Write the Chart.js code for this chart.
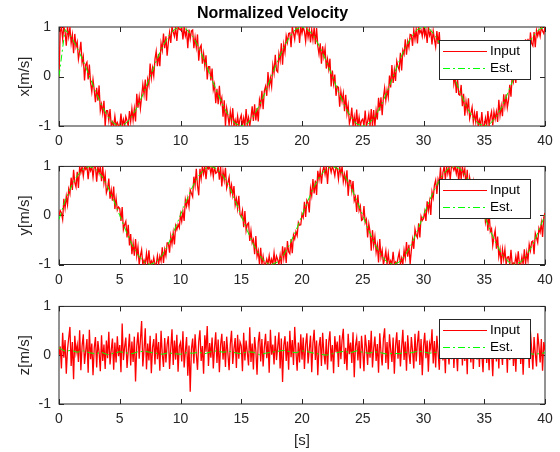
<!DOCTYPE html>
<html>
<head>
<meta charset="utf-8">
<script src="https://cdn.jsdelivr.net/npm/chart.js@4.4.1/dist/chart.umd.min.js"></script>
<style>
html, body { margin: 0; padding: 0; background: #fff; }
#fig { position: relative; width: 560px; height: 452px; }
#fig canvas { position: absolute; left: 0; }
</style>
</head>
<body>
<div id="fig">
  <canvas id="cx" width="560" height="150" style="top:0"></canvas>
  <canvas id="cy" width="560" height="140" style="top:150px"></canvas>
  <canvas id="cz" width="560" height="162" style="top:290px"></canvas>
</div>
<script>
//Sample times of the input signal (0.1 s step) and of the estimate (0.5 s step)
const time = Array.from({length: 401}, (_, i) => i / 10);
const estTime = Array.from({length: 81}, (_, i) => i / 2);

//x velocity, input (one row per second)
const xInput = [
  0.00, 0.90, 1.00, 0.76, 1.00, 0.90, 0.62, 1.00, 0.80, 0.99,
  0.67, 0.84, 0.47, 0.86, 0.60, 0.70, 0.35, 0.50, 0.70, 0.28,
  0.40, -0.08, 0.24, 0.29, -0.06, 0.24, -0.13, -0.31, -0.06, -0.27,
  -0.52, -0.23, -0.49, -0.18, -0.69, -0.56, -0.74, -0.49, -1.00, -0.69,
  -0.69, -0.89, -0.66, -1.00, -0.92, -1.00, -0.80, -1.00, -0.93, -1.00,
  -1.00, -0.75, -1.00, -0.87, -1.00, -0.81, -0.89, -1.00, -0.70, -0.91,
  -0.65, -0.88, -0.65, -0.91, -0.35, -0.63, -0.41, -0.65, -0.41, -0.16,
  -0.36, -0.06, -0.49, -0.06, -0.18, 0.26, -0.03, 0.17, 0.01, 0.35,
  0.51, 0.21, 0.46, 0.21, 0.67, 0.53, 0.87, 0.57, 0.81, 0.42,
  0.69, 0.89, 0.68, 1.00, 0.90, 0.81, 1.00, 0.72, 1.00, 0.96,
  0.94, 1.00, 0.75, 1.00, 0.82, 0.92, 0.57, 0.95, 0.76, 0.92,
  0.94, 0.57, 0.79, 0.59, 0.85, 0.32, 0.58, 0.63, 0.26, 0.46,
  0.21, 0.43, -0.06, 0.20, 0.20, -0.08, 0.16, -0.27, -0.16, -0.54,
  -0.25, -0.56, -0.19, -0.53, -0.43, -0.81, -0.48, -1.00, -0.64, -0.79,
  -0.98, -0.71, -0.92, -0.64, -1.00, -0.88, -1.00, -0.80, -1.00, -0.86,
  -0.78, -1.00, -0.84, -1.00, -0.66, -0.97, -0.83, -1.00, -0.83, -0.60,
  -0.90, -0.56, -0.89, -0.64, -0.91, -0.47, -0.59, -0.29, -0.66, -0.29,
  -0.20, -0.39, 0.09, -0.21, -0.03, -0.20, 0.23, 0.07, 0.44, 0.12,
  0.09, 0.46, 0.32, 0.67, 0.24, 0.65, 0.49, 0.82, 0.69, 0.87,
  0.88, 0.59, 1.00, 0.88, 0.75, 1.00, 0.88, 1.00, 0.68, 1.00,
  0.87, 1.00, 0.91, 0.71, 1.00, 0.79, 0.95, 0.69, 0.94, 0.74,
  0.99, 0.65, 0.98, 0.62, 0.45, 0.67, 0.26, 0.61, 0.40, 0.57,
  0.16, 0.35, 0.15, 0.36, -0.20, 0.12, -0.15, 0.04, -0.39, -0.20,
  -0.22, -0.61, -0.30, -0.50, -0.34, -0.70, -0.37, -0.75, -0.58, -0.95,
  -0.85, -0.63, -1.00, -0.81, -1.00, -0.67, -1.00, -0.82, -1.00, -0.89,
  -0.86, -1.00, -0.69, -1.00, -0.91, -0.76, -1.00, -0.66, -1.00, -0.68,
  -1.00, -0.69, -0.87, -0.43, -0.69, -0.42, -0.78, -0.42, -0.23, -0.48,
  -0.27, -0.42, 0.02, -0.22, 0.23, -0.13, 0.13, -0.09, 0.31, 0.20,
  0.13, 0.48, 0.12, 0.53, 0.45, 0.75, 0.44, 0.71, 0.59, 0.85,
  0.84, 0.62, 0.94, 0.75, 0.95, 0.67, 1.00, 0.88, 0.94, 0.81,
  1.00, 0.82, 0.94, 0.68, 1.00, 0.83, 0.91, 0.65, 0.92, 0.75,
  0.60, 0.92, 0.66, 0.90, 0.48, 0.19, 0.65, 0.35, 0.62, 0.29,
  0.43, 0.02, 0.27, 0.09, 0.25, -0.15, 0.00, -0.33, -0.05, -0.36,
  -0.38, -0.17, -0.60, -0.35, -0.79, -0.50, -0.69, -0.44, -0.85, -0.74,
  -0.62, -0.92, -0.74, -0.92, -0.70, -1.00, -0.88, -1.00, -0.72, -1.00,
  -1.00, -0.84, -1.00, -0.70, -1.00, -0.82, -0.71, -0.99, -0.71, -0.86,
  -0.71, -0.92, -0.47, -0.78, -0.59, -0.80, -0.36, -0.60, -0.36, -0.63,
  -0.47, -0.17, -0.41, 0.04, -0.10, 0.11, -0.13, 0.36, 0.11, 0.39,
  0.36, 0.10, 0.52, 0.35, 0.75, 0.53, 0.76, 0.44, 0.89, 0.67,
  0.62, 0.90, 0.59, 0.93, 0.82, 0.93, 0.81, 1.00, 0.92, 0.87,
  1.00
];

//x velocity, estimate
const xEst = [
  0.00, 0.95, 0.80, 0.58, 0.31, 0.01, -0.30, -0.58, -0.80, -0.95, -1.00, -0.95, -0.81, -0.59, -0.31, 0.00, 0.31, 0.59, 0.81, 0.95,
  1.00, 0.95, 0.81, 0.59, 0.30, -0.01, -0.31, -0.59, -0.81, -0.95, -1.00, -0.95, -0.80, -0.58, -0.30, 0.01, 0.32, 0.59, 0.81, 0.96,
  1.00, 0.95, 0.81, 0.58, 0.31, 0.00, -0.31, -0.59, -0.81, -0.96, -1.00, -0.95, -0.81, -0.59, -0.31, 0.00, 0.31, 0.58, 0.80, 0.95,
  1.00, 0.96, 0.81, 0.59, 0.31, 0.00, -0.31, -0.59, -0.81, -0.95, -1.00, -0.95, -0.81, -0.59, -0.30, 0.01, 0.31, 0.59, 0.81, 0.95,
  1.00
];

//y velocity, input
const yInput = [
  0.00, 0.10, 0.05, -0.08, 0.34, 0.15, 0.39, 0.22, 0.54, 0.44,
  0.77, 0.52, 0.93, 0.67, 0.58, 0.89, 0.56, 1.00, 0.87, 1.00,
  0.80, 1.00, 0.94, 1.00, 0.74, 1.00, 0.91, 1.00, 0.78, 1.00,
  1.00, 0.69, 1.00, 0.86, 1.00, 0.70, 1.00, 0.66, 0.83, 0.46,
  0.55, 0.75, 0.34, 0.52, 0.30, 0.59, 0.13, 0.35, 0.11, 0.17,
  0.14, -0.11, 0.17, -0.29, -0.19, -0.12, -0.45, -0.19, -0.61, -0.38,
  -0.79, -0.56, -0.82, -0.48, -0.82, -0.64, -1.00, -0.82, -0.70, -1.00,
  -0.91, -1.00, -0.77, -1.00, -0.71, -1.00, -0.93, -1.00, -0.86, -1.00,
  -1.00, -0.82, -1.00, -0.83, -0.93, -0.65, -0.97, -0.70, -0.82, -0.56,
  -0.56, -0.76, -0.42, -0.58, -0.35, -0.59, -0.21, -0.29, -0.18, -0.25,
  0.02, -0.12, 0.08, -0.11, 0.32, 0.19, 0.35, 0.18, 0.52, 0.45,
  0.38, 0.79, 0.61, 0.95, 0.61, 0.41, 0.95, 0.75, 1.00, 0.85,
  1.00, 0.74, 1.00, 0.95, 1.00, 0.85, 1.00, 0.79, 1.00, 0.86,
  0.88, 1.00, 0.73, 1.00, 0.59, 0.90, 0.72, 0.97, 0.56, 0.67,
  0.78, 0.46, 0.62, 0.41, 0.60, 0.21, 0.34, 0.14, 0.40, 0.02,
  -0.03, 0.10, -0.24, 0.09, -0.31, -0.18, -0.15, -0.52, -0.31, -0.56,
  -0.49, -0.79, -0.42, -0.83, -0.72, -1.00, -0.66, -1.00, -0.83, -1.00,
  -1.00, -0.89, -1.00, -0.82, -1.00, -0.89, -1.00, -0.76, -1.00, -0.83,
  -0.90, -1.00, -0.81, -1.00, -0.63, -0.87, -0.65, -0.97, -0.52, -0.74,
  -0.78, -0.48, -0.77, -0.40, -0.48, -0.33, -0.41, -0.14, -0.20, -0.19,
  0.03, -0.04, 0.28, -0.03, 0.31, 0.26, 0.06, 0.55, 0.40, 0.74,
  0.45, 0.71, 0.42, 0.91, 0.73, 0.92, 0.65, 0.90, 1.00, 0.84,
  1.00, 0.64, 1.00, 1.00, 0.88, 1.00, 0.93, 0.81, 1.00, 0.95,
  0.74, 1.00, 0.84, 1.00, 0.69, 0.84, 0.67, 0.92, 0.40, 0.72,
  0.71, 0.49, 0.70, 0.30, 0.38, 0.07, 0.42, 0.10, 0.19, -0.10,
  -0.08, 0.19, -0.15, -0.08, -0.45, -0.17, -0.33, -0.72, -0.30, -0.61,
  -0.43, -0.75, -0.60, -0.96, -0.48, -0.85, -0.71, -1.00, -0.88, -0.72,
  -1.00, -0.78, -1.00, -0.92, -1.00, -0.74, -1.00, -0.95, -1.00, -0.87,
  -0.75, -1.00, -0.87, -1.00, -0.71, -0.87, -0.54, -0.84, -0.60, -0.99,
  -0.71, -0.49, -0.68, -0.28, -0.40, -0.45, -0.16, -0.45, -0.02, -0.10,
  -0.06, 0.08, -0.11, 0.29, 0.10, 0.28, 0.01, 0.48, 0.36, 0.62,
  0.72, 0.44, 0.74, 0.64, 0.98, 0.54, 0.88, 1.00, 0.73, 1.00,
  0.85, 1.00, 0.73, 1.00, 1.00, 0.92, 1.00, 0.85, 1.00, 0.68,
  1.00, 0.74, 1.00, 0.83, 0.95, 0.59, 0.93, 0.40, 0.77, 0.62,
  0.42, 0.67, 0.44, 0.69, 0.26, 0.38, 0.04, 0.37, 0.07, 0.20,
  0.22, -0.13, 0.02, -0.31, 0.06, -0.33, -0.27, -0.61, -0.43, -0.30,
  -0.68, -0.43, -0.84, -0.69, -1.00, -0.69, -0.89, -0.69, -1.00, -0.85,
  -0.84, -1.00, -0.70, -1.00, -0.97, -1.00, -0.83, -1.00, -0.73, -1.00,
  -1.00, -0.84, -1.00, -0.69, -1.00, -0.75, -0.92, -0.59, -0.72, -0.54,
  -0.52, -0.79, -0.36, -0.45, -0.55, -0.26, -0.34, -0.15, -0.44, -0.04,
  0.05
];

//y velocity, estimate
const yEst = [
  -0.08, 0.30, 0.58, 0.81, 0.95, 1.00, 0.95, 0.81, 0.59, 0.31, 0.00, -0.31, -0.59, -0.81, -0.95, -1.00, -0.95, -0.81, -0.58, -0.30,
  0.01, 0.31, 0.59, 0.81, 0.95, 1.00, 0.95, 0.81, 0.59, 0.30, -0.01, -0.31, -0.59, -0.81, -0.96, -1.00, -0.95, -0.80, -0.58, -0.31,
  0.00, 0.31, 0.59, 0.81, 0.95, 1.00, 0.95, 0.81, 0.59, 0.31, 0.00, -0.31, -0.59, -0.81, -0.95, -1.00, -0.95, -0.81, -0.59, -0.31,
  0.00, 0.31, 0.58, 0.80, 0.95, 1.00, 0.96, 0.81, 0.59, 0.31, 0.00, -0.31, -0.59, -0.81, -0.95, -1.00, -0.95, -0.81, -0.59, -0.30,
  0.01
];

//z velocity, input
const zInput = [
  0.00, 0.18, -0.27, 0.46, -0.05, 0.31, -0.38, 0.12, 0.35, 0.58,
  -0.22, 0.27, -0.49, 0.40, 0.05, 0.21, -0.14, 0.51, -0.31, 0.19,
  0.43, -0.18, 0.09, 0.33, -0.36, 0.52, -0.08, 0.24, -0.41, 0.15,
  0.37, -0.25, 0.29, 0.06, -0.33, 0.41, -0.12, 0.22, -0.28, 0.30,
  -0.06, 0.48, -0.19, 0.11, 0.34, -0.30, 0.26, -0.15, 0.39, -0.02,
  0.21, -0.35, 0.65, -0.10, 0.17, 0.36, -0.26, 0.09, 0.44, -0.21,
  0.28, -0.14, 0.38, -0.54, 0.19, 0.47, -0.07, 0.31, 0.70, -0.23,
  0.12, 0.55, -0.29, 0.24, -0.11, 0.40, -0.37, 0.16, 0.33, -0.19,
  0.45, -0.08, 0.27, -0.32, 0.50, 0.03, -0.24, 0.35, -0.15, 0.22,
  0.39, -0.28, 0.14, 0.53, -0.20, 0.30, -0.09, 0.42, -0.34, 0.18,
  0.26, -0.13, 0.49, -0.25, 0.08, 0.37, -0.42, 0.20, -0.75, 0.13,
  0.34, -0.17, 0.43, 0.02, -0.30, 0.28, 0.51, -0.12, 0.19, -0.38,
  0.41, 0.07, 0.60, -0.22, 0.25, -0.05, 0.36, -0.27, 0.15, 0.47,
  -0.16, 0.32, -0.35, 0.21, 0.44, -0.09, 0.29, -0.24, 0.38, 0.04,
  -0.31, 0.23, 0.50, -0.18, 0.13, 0.35, -0.26, 0.42, -0.07, 0.27,
  0.19, -0.33, 0.46, -0.11, 0.30, 0.05, -0.21, 0.57, -0.14, 0.24,
  -0.29, 0.37, 0.10, -0.40, 0.26, 0.48, -0.13, 0.33, -0.23, 0.16,
  0.44, -0.06, 0.29, -0.36, 0.52, 0.01, 0.22, -0.19, 0.40, -0.10,
  0.17, 0.47, -0.27, 0.34, -0.55, 0.20, 0.39, -0.12, 0.28, -0.30,
  0.50, -0.04, 0.31, -0.20, 0.58, 0.08, -0.32, 0.26, -0.15, 0.43,
  -0.09, 0.36, -0.28, 0.22, 0.45, -0.17, 0.12, 0.40, -0.35, 0.25,
  0.52, -0.10, 0.30, -0.41, 0.18, 0.37, -0.22, 0.46, 0.03, -0.19,
  0.33, -0.30, 0.27, 0.49, -0.13, 0.21, -0.37, 0.39, 0.06, 0.28,
  -0.24, 0.41, -0.08, 0.32, 0.54, -0.18, 0.15, -0.31, 0.44, 0.02,
  0.26, -0.16, 0.47, -0.45, 0.19, 0.35, -0.11, 0.29, -0.27, 0.40,
  0.08, -0.33, 0.42, 0.17, -0.20, 0.31, -0.05, 0.50, -0.25, 0.14,
  0.38, -0.12, 0.23, -0.36, 0.45, 0.06, -0.21, 0.34, 0.55, -0.16,
  0.27, -0.29, 0.43, 0.11, -0.14, 0.36, -0.38, 0.20, 0.47, -0.07,
  0.31, -0.23, 0.16, 0.52, -0.10, 0.28, -0.32, 0.41, 0.04, -0.18,
  0.37, 0.09, -0.27, 0.44, -0.13, 0.25, 0.50, -0.20, 0.33, -0.41,
  0.19, 0.46, -0.06, 0.30, -0.34, 0.24, 0.12, 0.53, -0.17, 0.29,
  -0.25, 0.40, 0.07, -0.30, 0.35, 0.58, -0.11, 0.22, -0.37, 0.43,
  0.15, -0.19, 0.32, -0.08, 0.49, -0.26, 0.27, 0.10, -0.33, 0.38,
  0.05, 0.45, -0.21, 0.34, -0.12, 0.28, -0.39, 0.51, 0.16, -0.15,
  0.36, -0.28, 0.23, 0.47, -0.09, 0.31, -0.24, 0.40, 0.02, -0.35,
  0.29, 0.54, -0.16, 0.20, -0.31, 0.44, 0.08, -0.43, 0.26, 0.37,
  -0.13, 0.33, -0.27, 0.48, 0.11, -0.20, 0.39, -0.05, 0.30, -0.36,
  0.42, -0.10, 0.25, 0.51, -0.22, 0.18, -0.34, 0.35, 0.06, 0.46,
  -0.18, 0.28, -0.40, 0.21, 0.43, -0.07, 0.32, -0.26, 0.49, 0.13,
  -0.29, 0.37, 0.04, -0.23, 0.45, 0.19, -0.15, 0.33, -0.32, 0.27,
  0.10
];

//z velocity, estimate
const zEst = [
  0.15, 0.08, 0.10, 0.06, 0.09, 0.05, 0.03, 0.06, 0.01, 0.04, 0.07, 0.05, 0.03, 0.07, 0.08, 0.06, 0.04, 0.02, 0.05, 0.03,
  0.02, 0.05, 0.04, 0.06, 0.03, 0.07, 0.09, 0.06, 0.08, 0.05, 0.03, 0.07, 0.06, 0.01, 0.04, 0.06, 0.08, 0.10, 0.07, 0.05,
  0.09, 0.07, 0.04, 0.02, 0.00, 0.03, 0.06, 0.08, 0.05, 0.09, 0.06, 0.04, 0.07, 0.05, 0.02, 0.04, 0.03, 0.06, 0.05, 0.08,
  0.07, 0.04, 0.06, 0.03, 0.05, 0.08, 0.06, 0.09, 0.05, 0.03, 0.01, 0.04, 0.06, 0.03, 0.05, 0.07, 0.04, 0.06, 0.02, 0.03,
  0.05
];

const FONT = "'Liberation Sans', Arial, Helvetica, sans-serif";
const AXIS_COL = '#262626';

Chart.defaults.font.family = FONT;
Chart.defaults.color = AXIS_COL;
Chart.defaults.animation = false;

//MATLAB style box with inward ticks on all four sides
const axesBox = {
  id: 'axesBox',
  beforeDatasetsDraw(chart) {
    const {ctx, chartArea: a, scales} = chart;
    const tl = 5;
    ctx.save();
    ctx.strokeStyle = AXIS_COL;
    ctx.lineWidth = 1;
    ctx.beginPath();
    scales.x.ticks.forEach(t => {
      const px = Math.round(scales.x.getPixelForValue(t.value)) + 0.5;
      ctx.moveTo(px, a.bottom); ctx.lineTo(px, a.bottom - tl);
      ctx.moveTo(px, a.top); ctx.lineTo(px, a.top + tl);
    });
    scales.y.ticks.forEach(t => {
      const py = Math.round(scales.y.getPixelForValue(t.value)) + 0.5;
      ctx.moveTo(a.left, py); ctx.lineTo(a.left + tl, py);
      ctx.moveTo(a.right, py); ctx.lineTo(a.right - tl, py);
    });
    ctx.stroke();
    ctx.strokeRect(a.left, a.top, a.width, a.height);
    ctx.restore();
  }
};

//Boxed legend in the upper right corner of each plot
const legendBox = {
  id: 'legendBox',
  afterDatasetsDraw(chart) {
    const {ctx, chartArea: a} = chart;
    const w = 91, h = 39;
    const left = Math.round(a.right - 106), top = Math.round(a.top + 13);
    ctx.save();
    ctx.fillStyle = '#fff';
    ctx.fillRect(left, top, w, h);
    ctx.strokeStyle = AXIS_COL;
    ctx.lineWidth = 1;
    ctx.strokeRect(left + 0.5, top + 0.5, w, h);
    chart.data.datasets.forEach((ds, i) => {
      const y = top + 11.5 + i * 17;
      ctx.beginPath();
      ctx.setLineDash(ds.borderDash || []);
      ctx.strokeStyle = ds.borderColor;
      ctx.lineWidth = 1;
      ctx.moveTo(left + 4, y);
      ctx.lineTo(left + 48, y);
      ctx.stroke();
      ctx.setLineDash([]);
      ctx.fillStyle = '#000';
      ctx.font = '13.5px ' + FONT;
      ctx.textBaseline = 'middle';
      ctx.fillText(ds.label, left + 51, y);
    });
    ctx.restore();
  }
};

function buildChart(id, input, est, yLabel, opts) {
  const data = {
    datasets: [
      {
        label: 'Input',
        data: time.map((t, i) => ({x: t, y: input[i]})),
        borderColor: '#ff0000',
        borderWidth: 1.3,
        pointRadius: 0,
        order: 1,
      },
      {
        label: 'Est.',
        data: estTime.map((t, i) => ({x: t, y: est[i]})),
        borderColor: '#00ff00',
        borderWidth: 1,
        borderDash: [7, 3, 2, 3],
        pointRadius: 0,
        order: 0,
      },
    ]
  };

  const config = {
    type: 'line',
    data: data,
    plugins: [axesBox, legendBox],
    options: {
      responsive: false,
      layout: { padding: { left: 0, right: 15, top: opts.padTop, bottom: 0 } },
      plugins: {
        legend: { display: false },
        tooltip: { enabled: false },
        title: opts.title ? {
          display: true,
          text: opts.title,
          color: '#000',
          font: { size: 16, weight: 'bold' },
          padding: { top: 3.7, bottom: 4.1 }
        } : { display: false }
      },
      scales: {
        x: {
          type: 'linear',
          min: 0,
          max: 40,
          grid: { display: false, drawTicks: false },
          border: { display: false },
          ticks: { stepSize: 5, padding: 7, maxRotation: 0, autoSkip: false, font: { size: 14 } },
          title: opts.xLabel ? {
            display: true,
            text: opts.xLabel,
            font: { size: 15 },
            padding: { top: 0, bottom: 2 }
          } : { display: false },
          afterFit: s => { s.height = opts.xHeight; }
        },
        y: {
          min: -1,
          max: 1,
          grid: { display: false, drawTicks: false },
          border: { display: false },
          ticks: { stepSize: 1, padding: 8, font: { size: 14 } },
          title: {
            display: true,
            text: yLabel,
            font: { size: 15 },
            padding: { top: 16, bottom: 0 }
          },
          afterFit: s => { s.width = 59; }
        }
      }
    }
  };
  return new Chart(document.getElementById(id), config);
}

//Build the three plots
buildChart('cx', xInput, xEst, 'x[m/s]', { padTop: 0, xHeight: 24, title: 'Normalized Velocity' });
buildChart('cy', yInput, yEst, 'y[m/s]', { padTop: 15, xHeight: 25.5 });
buildChart('cz', zInput, zEst, 'z[m/s]', { padTop: 14, xHeight: 48, xLabel: '[s]' });
</script>
</body>
</html>
